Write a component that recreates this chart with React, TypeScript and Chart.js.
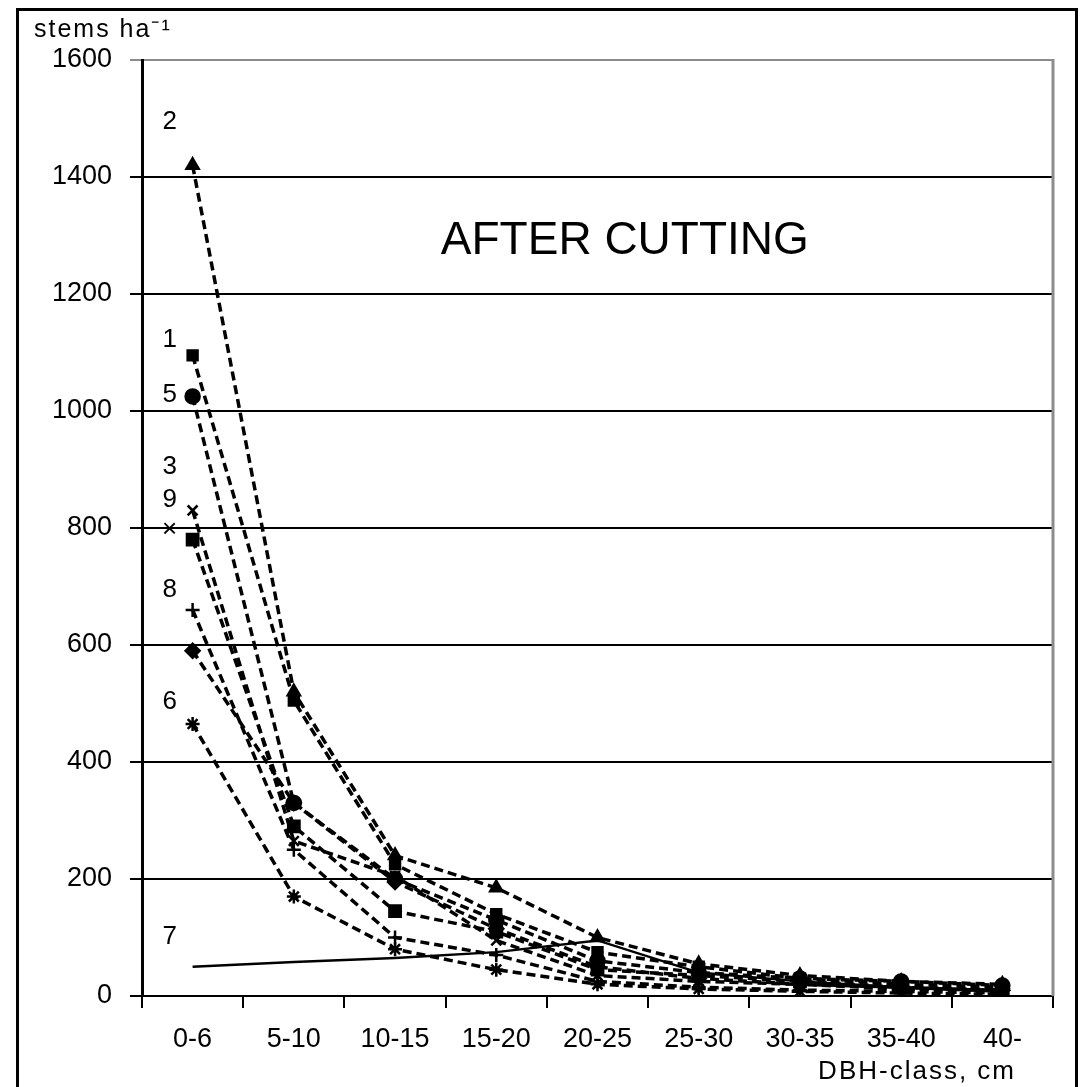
import React, { useEffect, useRef } from "react";
import { Chart, registerables } from "chart.js";

Chart.register(...registerables);

const categories = ["0-6", "5-10", "10-15", "15-20", "20-25", "25-30", "30-35", "35-40", "40-"];

const series1 = [1095, 505, 225, 140, 75, 50, 30, 20, 15];
const series2 = [1420, 520, 240, 185, 100, 55, 35, 25, 20];
const series3 = [780, 290, 145, 110, 45, 35, 25, 15, 10];
const series4 = [590, 330, 195, 115, 50, 30, 20, 12, 10];
const series5 = [1025, 330, 200, 130, 60, 40, 30, 25, 18];
const series6 = [465, 170, 80, 45, 20, 12, 8, 5, 3];
const series7 = [50, 58, 65, 75, 95, 40, 25, 15, 10];
const series8 = [660, 250, 100, 70, 25, 15, 10, 8, 5];
const series9 = [830, 265, 205, 95, 35, 25, 20, 15, 8];

const seriesNames = ["1", "2", "3", "4", "5", "6", "7", "8", "9"];
const seriesValues = [series1, series2, series3, series4, series5, series6, series7, series8, series9];
const seriesMarkers = ["rect", "triangle", "rect", "rectRot", "circle", "star", "line", "cross", "crossRot"];

// text labels beside the first points (label, value level)
const labelTexts = ["2", "1", "5", "3", "9", "×", "8", "6", "7"];
const labelLevels = [1494, 1121, 1027, 904, 848, 797, 694, 503, 101];

const yMin = 0;
const yMax = 1600;
const yStep = 200;

const chartTitle = "AFTER CUTTING";
const yTitle = "stems ha⁻¹";
const xTitle = "DBH-class, cm";

const FONT = "'Liberation Sans', Arial, sans-serif";

const textPlugin = {
  id: "textPlugin",
  afterDraw(chart: any) {
    const { ctx, chartArea } = chart;
    const x = chart.scales.x;
    const y = chart.scales.y;
    ctx.save();
    // right gray border of plot area
    ctx.strokeStyle = "#8c8c8c";
    ctx.lineWidth = 3;
    ctx.beginPath();
    ctx.moveTo(chartArea.right, chartArea.top - 1);
    ctx.lineTo(chartArea.right, chartArea.bottom);
    ctx.stroke();

    ctx.fillStyle = "#000";
    // series labels
    ctx.font = `26px ${FONT}`;
    ctx.textAlign = "center";
    ctx.textBaseline = "middle";
    const lx = x.getPixelForValue(0) - 23;
    labelTexts.forEach((t, i) => {
      ctx.fillText(t, lx, y.getPixelForValue(labelLevels[i]));
    });

    // chart title inside plot
    ctx.font = `46px ${FONT}`;
    ctx.textAlign = "center";
    ctx.fillText(chartTitle, chartArea.left + 0.53 * (chartArea.right - chartArea.left), y.getPixelForValue(1290));

    // y title
    ctx.font = `25px ${FONT}`;
    try { (ctx as any).letterSpacing = "2px"; } catch (e) {}
    ctx.textAlign = "left";
    ctx.fillText(yTitle, 34, 30);

    // x title
    ctx.font = `26px ${FONT}`;
    ctx.textAlign = "right";
    ctx.fillText(xTitle, 1016, 1072);
    ctx.restore();
  },
};

export default function App() {
  const ref = useRef<HTMLCanvasElement>(null);

  useEffect(() => {
    if (!ref.current) return;
    const datasets = seriesValues.map((vals, i) => {
      const solid = seriesNames[i] === "7";
      return {
        label: seriesNames[i],
        data: vals,
        borderColor: "#000",
        backgroundColor: "#000",
        borderWidth: solid ? 2.5 : 3.5,
        borderDash: solid ? [] : [9, 5],
        pointStyle: seriesMarkers[i] as any,
        pointRadius: solid ? 0 : i === 2 ? 8 : 7,
        pointBorderWidth: 2.5,
        pointBorderColor: "#000",
        pointBackgroundColor: "#000",
        tension: 0,
        fill: false,
      };
    });
    const chart = new Chart(ref.current, {
      type: "line",
      data: { labels: categories, datasets },
      options: {
        animation: false,
        responsive: false,
        devicePixelRatio: 1,
        layout: { padding: { top: 60, right: 30, left: 0, bottom: 0 } },
        plugins: {
          legend: { display: false },
          title: { display: false },
          tooltip: { enabled: false },
        },
        scales: {
          x: {
            type: "category",
            offset: true,
            afterFit: (s: any) => {
              s.height = 91;
            },
            grid: {
              offset: true,
              drawOnChartArea: false,
              drawTicks: true,
              tickLength: 12,
              color: "#000",
              lineWidth: 2,
            },
            border: { color: "#000", width: 2 },
            ticks: {
              color: "#000",
              font: { family: FONT, size: 27 },
              padding: 15,
              maxRotation: 0,
              autoSkip: false,
            },
          },
          y: {
            min: yMin,
            max: yMax,
            afterFit: (s: any) => {
              s.width = 142;
            },
            grid: {
              color: (c: any) => (c.tick && c.tick.value === yMax ? "#8c8c8c" : "#000"),
              lineWidth: 2,
              tickLength: 12,
              drawTicks: true,
            },
            border: { color: "#000", width: 3 },
            ticks: {
              stepSize: yStep,
              color: "#000",
              font: { family: FONT, size: 27 },
              padding: 18,
              callback: (v: any) => String(v),
            },
          },
        },
      },
      plugins: [textPlugin],
    });
    return () => chart.destroy();
  }, []);

  return (
    <div
      style={{
        position: "absolute",
        left: 0,
        top: 0,
        width: 1083,
        height: 1087,
        overflow: "hidden",
        background: "#fff",
      }}
    >
      <canvas ref={ref} width={1083} height={1087} style={{ display: "block" }} />
      <div
        style={{
          position: "absolute",
          left: 16,
          top: 8,
          width: 1056,
          height: 1100,
          border: "3px solid #000",
          boxSizing: "content-box",
          pointerEvents: "none",
        }}
      />
    </div>
  );
}
